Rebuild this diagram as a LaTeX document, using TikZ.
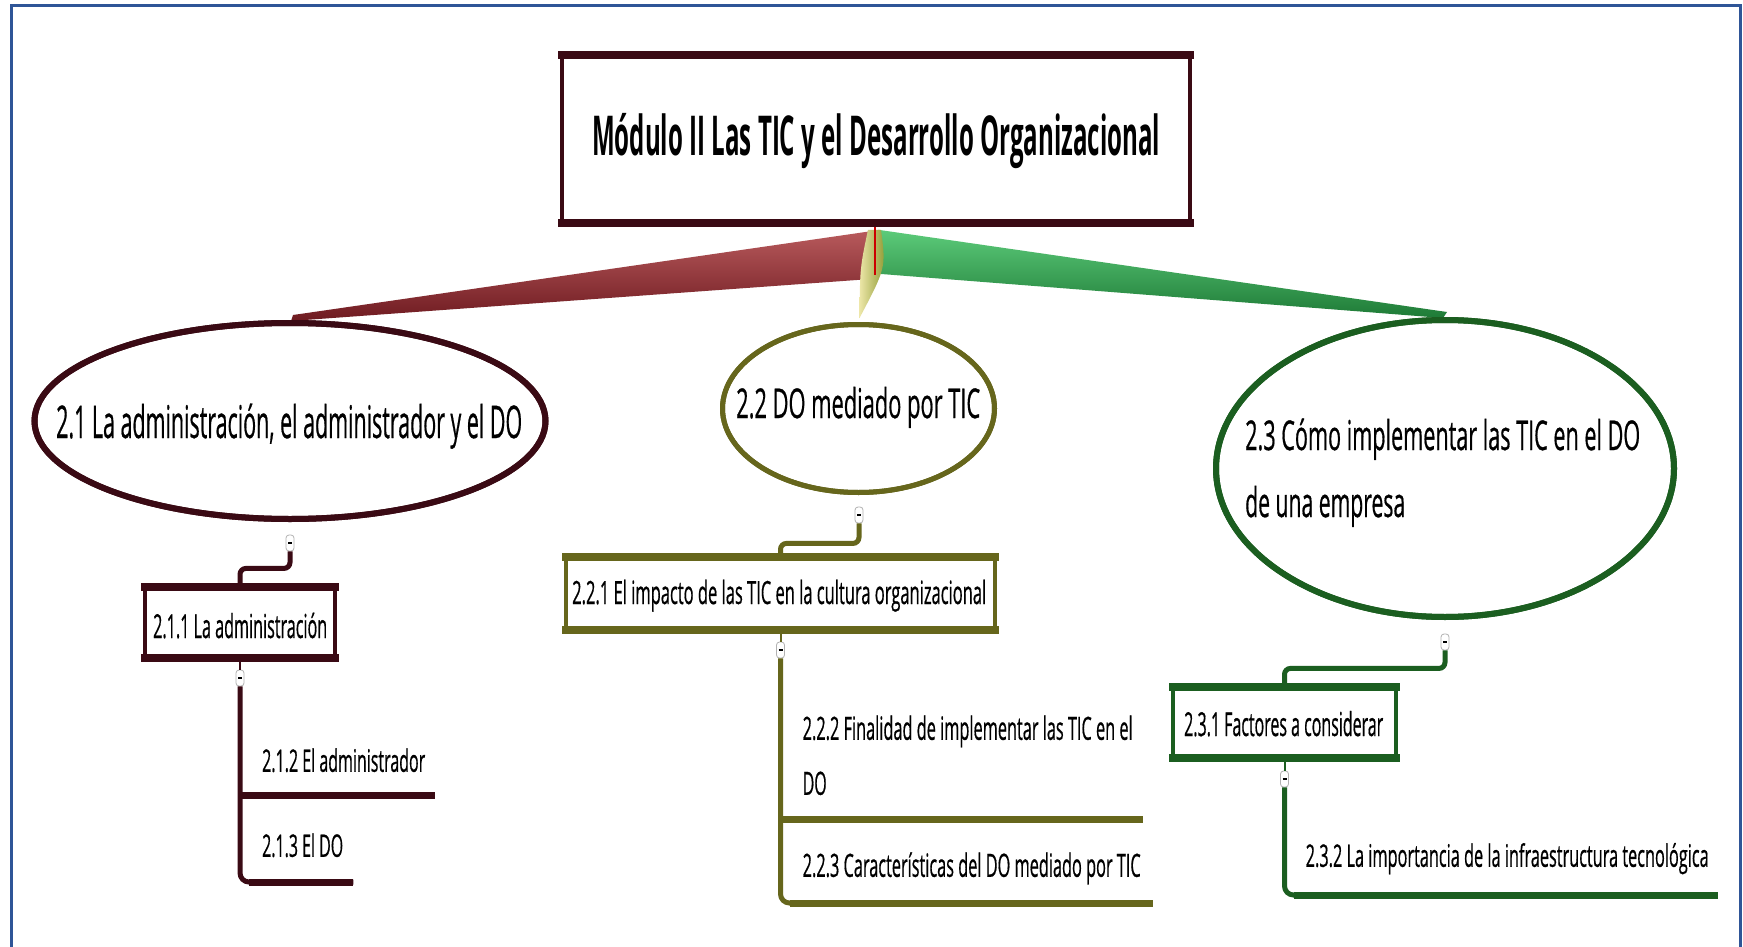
\documentclass[tikz,border=0pt]{standalone}
\usepackage{fontspec}
\setmainfont{Open Sans}
\newfontfamily\rf{Open Sans}[FakeBold=0.8]
\usepackage{graphicx}
\usetikzlibrary{shapes.geometric,calc}
\definecolor{mar}{HTML}{3A0A14}
\definecolor{oli}{HTML}{66661C}
\definecolor{grn}{HTML}{1B5E20}
\definecolor{framec}{HTML}{2F5597}
\definecolor{mwl}{HTML}{B85A5C}
\definecolor{mwd}{HTML}{6E1A20}
\definecolor{gwl}{HTML}{5CCB7A}
\definecolor{gwd}{HTML}{1E7A36}
\definecolor{owl}{HTML}{ECE6A8}
\definecolor{owd}{HTML}{8E9A32}
\newcommand\sqz[2]{\resizebox{#1pt}{\height}{#2}}
\newcommand\fs[1]{\rf\fontsize{#1pt}{#1pt}\selectfont}
\begin{document}
\begin{tikzpicture}[x=1pt,y=-1pt,
  txt/.style={inner sep=0pt, anchor=base west, text=black},
  ell/.style={ellipse, draw=#1, line width=6pt, inner sep=0pt},
  rbox/.style={rectangle, draw=#1, line width=3.5pt, inner sep=0pt, fill=white},
  icon/.style={draw=gray!60, fill=white, line width=0.8pt, rounded corners=3pt, minimum width=8pt, minimum height=16pt, inner sep=0pt},
  elbow/.style={draw=#1, line width=5pt, rounded corners=6pt},
  trunk/.style={draw=#1, line width=5pt, rounded corners=9pt},
  uline/.style={draw=#1, line width=7pt},
  stub/.style={draw=#1, line width=2pt},
  child/.style={inner sep=0pt, anchor=south west, text=black},
]
\useasboundingbox (0,0) rectangle (1743,947);
\fill[white] (0,0) rectangle (1743,947);
\draw[framec, line width=3pt] (11,960) -- (11,6) -- (1740,6) -- (1740,960);

% main nodes (shapes)
\node[rbox=mar, minimum width=628pt, minimum height=164pt] (title) at (876,139) {};
\node[ell=mar, minimum width=511pt, minimum height=196pt] (e21) at (290,421) {};
\node[ell=oli, line width=5pt, minimum width=272pt, minimum height=168pt] (e22) at (858.5,408.5) {};
\node[ell=grn, minimum width=458pt, minimum height=297pt] (e23) at (1445,468.5) {};

% tapered connectors
\shade[top color=mwl, bottom color=mwd]
  ($(title.south)+(-2,8)$) -- ($(e21.north)+(3,-5)$) -- ($(e21.north)+(1,1)$) -- ($(title.south)+(-2,56)$) -- cycle;
\shade[top color=gwl, bottom color=gwd]
  ($(title.south)+(2,7)$) -- ($(e23.north)+(2,-5)$) -- ($(e23.north)+(-2,1)$) -- ($(title.south)+(2,51)$) -- cycle;
\shade[left color=owl, right color=owd]
  ($(title.south)+(-8,7)$) .. controls ($(title.south)+(-16,45)$) .. ($(e22.north)+(1,-4)$)
  .. controls ($(title.south)+(10,45)$) .. ($(title.south)+(5,7)$) -- cycle;
\draw[red!80!black, line width=1.2pt] ($(title.south)+(-1,0)$) -- ($(title.south)+(-1,52)$);

% redraw shapes on top of connector ends
\node[rbox=mar, minimum width=628pt, minimum height=164pt] (title) at (876,139) {};
\draw[mar, line width=8pt] ($(title.north west)+(-2,0)$) -- ($(title.north east)+(2,0)$);
\draw[mar, line width=8pt] ($(title.south west)+(-2,0)$) -- ($(title.south east)+(2,0)$);
\node[ell=mar, minimum width=511pt, minimum height=196pt] (e21) at (290,421) {};
\node[ell=oli, line width=5pt, minimum width=272pt, minimum height=168pt] (e22) at (858.5,408.5) {};
\node[ell=grn, minimum width=458pt, minimum height=297pt] (e23) at (1445,468.5) {};

% texts of main nodes
\node[txt, font={\bfseries\fontsize{55pt}{55pt}\selectfont}] (t0) at (592,155) {\sqz{568}{Módulo II Las TIC y el Desarrollo Organizacional}};
\node[txt, font={\fs{45}}] (t21) at (56,438) {\sqz{466}{2.1 La administración, el administrador y el DO}};
\node[txt, font={\fs{41}}] (t22) at (736,418) {\sqz{244}{2.2 DO mediado por TIC}};
\node[txt, font={\fs{41}}] (t23) at (1245,517) {\vbox{\baselineskip=67pt\lineskiplimit=-100pt
  \hbox{\sqz{395}{2.3 Cómo implementar las TIC en el DO}}\hbox{\sqz{160}{de una empresa}}}};

% second-level boxes
\node[rbox=mar, minimum width=190pt, minimum height=67pt] (b211) at (240,622.5) {};
\draw[mar, line width=8pt] ($(b211.north west)+(-2,0)$) -- ($(b211.north east)+(2,0)$);
\draw[mar, line width=8pt] ($(b211.south west)+(-2,0)$) -- ($(b211.south east)+(2,0)$);
\node[rbox=oli, minimum width=429pt, minimum height=69pt] (b221) at (780.5,593.5) {};
\draw[oli, line width=8pt] ($(b221.north west)+(-2,0)$) -- ($(b221.north east)+(2,0)$);
\draw[oli, line width=8pt] ($(b221.south west)+(-2,0)$) -- ($(b221.south east)+(2,0)$);
\node[rbox=grn, minimum width=223pt, minimum height=67pt] (b231) at (1284.5,722.5) {};
\draw[grn, line width=8pt] ($(b231.north west)+(-2,0)$) -- ($(b231.north east)+(2,0)$);
\draw[grn, line width=8pt] ($(b231.south west)+(-2,0)$) -- ($(b231.south east)+(2,0)$);

\node[txt, font={\fs{33}}] (t211) at (153,638) {\sqz{174}{2.1.1 La administración}};
\node[txt, font={\fs{32}}] (t221) at (572,604) {\sqz{414}{2.2.1 El impacto de las TIC en la cultura organizacional}};
\node[txt, font={\fs{33}}] (t231) at (1184,736) {\sqz{199}{2.3.1 Factores a considerar}};

% collapse icons
\node[icon] (i21) at (290,543) {\rule[-0.65pt]{4pt}{1.3pt}};
\node[icon] (i22) at (859,515) {\rule[-0.65pt]{4pt}{1.3pt}};
\node[icon] (i23) at (1445,642) {\rule[-0.65pt]{4pt}{1.3pt}};
\node[icon] (i211) at (240,678) {\rule[-0.65pt]{4pt}{1.3pt}};
\node[icon] (i221) at (780.5,650) {\rule[-0.65pt]{4pt}{1.3pt}};
\node[icon] (i231) at (1284.5,779) {\rule[-0.65pt]{4pt}{1.3pt}};

% elbow connectors
\draw[elbow=mar] (i21.south) -- ++(0,17) -| (b211.north);
\draw[elbow=oli] (i22.south) -- ++(0,20) -| (b221.north);
\draw[elbow=grn] (i23.south) -- ++(0,18) -| (b231.north);
\draw[stub=mar] (b211.south) -- (i211.north);
\draw[stub=oli] (b221.south) -- (i221.north);
\draw[stub=grn] (b231.south) -- (i231.north);

% children (underlined topics)
\node[child, text depth=23pt, font={\fs{31}}] (c212) at (240,795) {\kern22pt\sqz{163}{2.1.2 El administrador}\kern10pt};
\node[child, text depth=25pt, font={\fs{31}}] (c213) at (240,882) {\kern22pt\sqz{81}{2.1.3 El DO}\kern10pt};
\node[child, text depth=24pt, font={\fs{32}}] (c222) at (780.5,819) {\kern22pt\vbox{\baselineskip=55pt\lineskiplimit=-100pt
  \hbox{\sqz{330}{2.2.2 Finalidad de implementar las TIC en el}}\hbox{\sqz{24}{DO}}}\kern10pt};
\node[child, text depth=26pt, font={\fs{32}}] (c223) at (780.5,903) {\kern22pt\sqz{338}{2.2.3 Características del DO mediado por TIC}\kern12pt};
\node[child, text depth=28pt, font={\fs{31}}] (c232) at (1284.5,895) {\kern21pt\sqz{403}{2.3.2 La importancia de la infraestructura tecnológica}\kern9pt};

% trunks and underlines
\draw[trunk=mar] (i211.south) |- (c213.south east);
\draw[uline=mar] (c212.south west) -- (c212.south east);
\draw[uline=mar] ($(c213.south west)+(9,0)$) -- (c213.south east);
\draw[trunk=oli] (i221.south) |- (c223.south east);
\draw[uline=oli] (c222.south west) -- (c222.south east);
\draw[uline=oli] ($(c223.south west)+(9,0)$) -- (c223.south east);
\draw[trunk=grn] (i231.south) |- (c232.south east);
\draw[uline=grn] ($(c232.south west)+(9,0)$) -- (c232.south east);
\end{tikzpicture}
\end{document}
